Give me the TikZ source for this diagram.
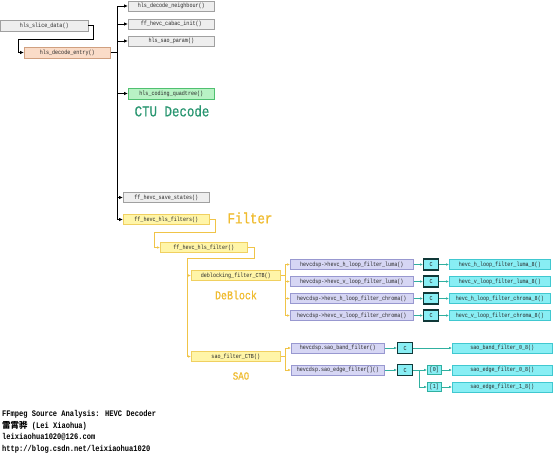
\documentclass[tikz,border=0pt]{standalone}
\usepackage{fontspec}
\usetikzlibrary{arrows.meta,shadows}
\newfontfamily\monof[FakeStretch=0.83]{Liberation Mono}
\newfontfamily\titlef[FakeStretch=0.83,FakeBold=0.6]{Liberation Mono}
\newfontfamily\cjkf{Noto Sans CJK SC}
\definecolor{gfill}{HTML}{EEEEEE}\definecolor{gdraw}{HTML}{A0A0A0}
\definecolor{pfill}{HTML}{FADCC8}\definecolor{pdraw}{HTML}{D0A080}
\definecolor{grfill}{HTML}{B8F2C4}\definecolor{grdraw}{HTML}{50C070}
\definecolor{yfill}{HTML}{FFF5A8}\definecolor{ydraw}{HTML}{F0D060}
\definecolor{lfill}{HTML}{D6D6F4}\definecolor{ldraw}{HTML}{9898D0}
\definecolor{cfill}{HTML}{88EEF4}\definecolor{cdraw}{HTML}{40C8D0}
\definecolor{cdark}{HTML}{103838}
\definecolor{tealc}{HTML}{30B0A0}
\definecolor{ctuc}{HTML}{289670}
\definecolor{goldc}{HTML}{F0BC30}
\definecolor{ylinec}{HTML}{F0C448}
\tikzset{
  fbox/.style={draw, line width=0.6pt, inner sep=0pt, anchor=west, minimum height=10pt, font=\monof\fontsize{6.1}{7}\selectfont, text=black!85, drop shadow={shadow xshift=0.8pt, shadow yshift=-0.8pt, opacity=0.3, fill=black!60}},
  gbox/.style={fbox, fill=gfill, draw=gdraw},
  pbox/.style={fbox, fill=pfill, draw=pdraw},
  grbox/.style={fbox, fill=grfill, draw=grdraw},
  ybox/.style={fbox, fill=yfill, draw=ydraw},
  lbox/.style={fbox, fill=lfill, draw=ldraw},
  cbox/.style={fbox, fill=cfill, draw=cdraw},
  ccbox/.style={fbox, fill=cfill, draw=cdark, line width=1.2pt, minimum width=15pt, minimum height=11pt},
  ibox/.style={fbox, fill=cfill, draw=tealc, minimum width=14pt, minimum height=9pt},
  bcon/.style={draw=black, line width=1pt},
  ycon/.style={draw=ylinec, line width=0.9pt},
  tcon/.style={draw=tealc, line width=0.9pt},
  arr/.style={-{Latex[length=4pt,width=3.5pt]}},
  sarr/.style={-{Latex[length=3pt,width=2.6pt]}},
  title/.style={font=\titlef\fontsize{15}{17}\selectfont, inner sep=0pt},
  foot/.style={font=\monof\bfseries\fontsize{8.5}{10}\selectfont, anchor=west, inner sep=0pt},
}
\begin{document}
\begin{tikzpicture}[x=1pt,y=-1pt]
\useasboundingbox[fill=white] (0,0) rectangle (554,458);
% top level
\node[gbox, minimum width=87pt, minimum height=11pt] (slice) at (0.5,25.5) {hls\_slice\_data()};
\node[pbox, minimum width=86pt, minimum height=11pt] (entry) at (24,52.5) {hls\_decode\_entry()};
\node[gbox, minimum width=86pt] (neigh) at (128,6) {hls\_decode\_neighbour()};
\node[gbox, minimum width=86pt] (cabac) at (128,24) {ff\_hevc\_cabac\_init()};
\node[gbox, minimum width=86pt] (saop) at (128,41) {hls\_sao\_param()};
\node[grbox, minimum width=86pt, minimum height=11pt] (quad) at (128,93.5) {hls\_coding\_quadtree()};
\node[gbox, minimum width=86pt] (save) at (123,197.5) {ff\_hevc\_save\_states()};
\node[ybox, minimum width=86pt] (filters) at (123,219.5) {ff\_hevc\_hls\_filters()};
\node[ybox, minimum width=87pt] (filter) at (160,247.5) {ff\_hevc\_hls\_filter()};
\node[ybox, minimum width=89pt] (deblk) at (191,275.5) {deblocking\_filter\_CTB()};
\node[ybox, minimum width=89pt] (saoctb) at (191,356.5) {sao\_filter\_CTB()};
% titles
\node[title, text=ctuc] (ctu) at (172,111) {CTU Decode};
\node[title, text=goldc] (ftitle) at (250,218) {Filter};
\node[title, text=goldc, font=\titlef\fontsize{12}{14}\selectfont] (dbtitle) at (236,295) {DeBlock};
\node[title, text=goldc, font=\titlef\fontsize{11}{13}\selectfont] (saotitle) at (241,376) {SAO};
% deblock rows
\node[lbox, minimum width=123pt] (b1) at (290,264.5) {hevcdsp->hevc\_h\_loop\_filter\_luma()};
\node[lbox, minimum width=123pt] (b2) at (290,281.5) {hevcdsp->hevc\_v\_loop\_filter\_luma()};
\node[lbox, minimum width=123pt] (b3) at (290,298.5) {hevcdsp->hevc\_h\_loop\_filter\_chroma()};
\node[lbox, minimum width=123pt] (b4) at (290,315.5) {hevcdsp->hevc\_v\_loop\_filter\_chroma()};
\node[ccbox] (c1) at (423,264.5) {C};
\node[ccbox] (c2) at (423,281.5) {C};
\node[ccbox] (c3) at (423,298.5) {C};
\node[ccbox] (c4) at (423,315.5) {C};
\node[cbox, minimum width=101pt] (r1) at (449,264.5) {hevc\_h\_loop\_filter\_luma\_8()};
\node[cbox, minimum width=101pt] (r2) at (449,281.5) {hevc\_v\_loop\_filter\_luma\_8()};
\node[cbox, minimum width=101pt] (r3) at (449,298.5) {hevc\_h\_loop\_filter\_chroma\_8()};
\node[cbox, minimum width=101pt] (r4) at (449,315.5) {hevc\_v\_loop\_filter\_chroma\_8()};
% sao rows
\node[lbox, minimum width=93pt] (sb1) at (291,348) {hevcdsp.sao\_band\_filter()};
\node[lbox, minimum width=93pt] (sb2) at (291,370) {hevcdsp.sao\_edge\_filter[]()};
\node[ccbox] (sc1) at (397,348) {C};
\node[ccbox] (sc2) at (397,370) {C};
\node[ibox] (i0) at (427,370) {[0]};
\node[ibox] (i1) at (427,387) {[1]};
\node[cbox, minimum width=100pt] (sr1) at (452,348) {sao\_band\_filter\_0\_8()};
\node[cbox, minimum width=100pt] (sr2) at (452,370) {sao\_edge\_filter\_0\_8()};
\node[cbox, minimum width=100pt] (sr3) at (452,387) {sao\_edge\_filter\_1\_8()};
% footer
\node[foot] (f1) at (2,414.5) {FFmpeg Source Analysis: HEVC Decoder};
\node[foot] (f2) at (2,426) {{\cjkf\bfseries\fontsize{8.5}{10}\selectfont 雷霄骅} (Lei Xiaohua)};
\node[foot] (f3) at (2,437.5) {leixiaohua1020@126.com};
\node[foot] (f4) at (2,449) {http://blog.csdn.net/leixiaohua1020};
% black connectors
\draw[bcon, arr] (slice.east) -- (93,25.5) -- (93,39) -- (18,39) |- (entry.west);
\coordinate (tt) at (117,6);
\coordinate (tb) at (117,219.5);
\draw[bcon] (entry.east) -- (entry.east -| tt);
\draw[bcon] (tt) -- (tb);
\foreach \n in {neigh,cabac,saop,quad,save,filters}{
  \draw[bcon, arr] (tt |- \n.west) -- (\n.west);
}
% yellow connectors
\draw[ycon, sarr] (filters.east) -- (215,219.5) -- (215,232) -- (154,232) |- (filter.west);
\draw[ycon] (filter.east) -- (254,247.5) -- (254,258) -- (187,258) -- (187,356.5);
\draw[ycon, sarr] (187,275.5) -- (deblk.west);
\draw[ycon, sarr] (187,356.5) -- (saoctb.west);
\coordinate (dv) at (285,275.5);
\draw[ycon] (deblk.east) -- (dv);
\draw[ycon] (dv |- b1.west) -- (dv |- b4.west);
\foreach \n in {b1,b2,b3,b4}{
  \draw[ycon, sarr] (dv |- \n.west) -- (\n.west);
}
\coordinate (sv) at (285,356.5);
\draw[ycon] (saoctb.east) -- (sv);
\draw[ycon] (sv |- sb1.west) -- (sv |- sb2.west);
\foreach \n in {sb1,sb2}{
  \draw[ycon, sarr] (sv |- \n.west) -- (\n.west);
}
% teal connectors
\foreach \i in {1,2,3,4}{
  \draw[tcon, sarr] (b\i.east) -- (c\i.west);
  \draw[tcon, sarr] (c\i.east) -- (r\i.west);
}
\draw[tcon, sarr] (sb1.east) -- (sc1.west);
\draw[tcon, sarr] (sb2.east) -- (sc2.west);
\draw[tcon, sarr] (sc1.east) -- (sr1.west);
\coordinate (ev) at (419,370);
\draw[tcon, sarr] (sc2.east) -- (i0.west);
\draw[tcon, sarr] (ev) |- (i1.west);
\draw[tcon, sarr] (i0.east) -- (sr2.west);
\draw[tcon, sarr] (i1.east) -- (sr3.west);
\end{tikzpicture}
\end{document}
